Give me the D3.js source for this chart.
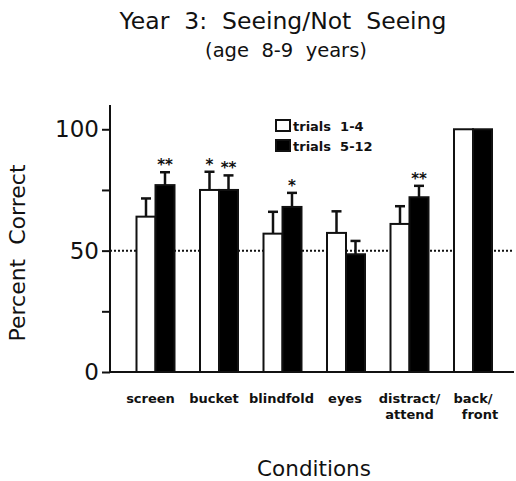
<!DOCTYPE html>
<html>
<head>
<meta charset="utf-8">
<script src="https://cdn.jsdelivr.net/npm/d3@7"></script>
<style>
  html, body { margin: 0; padding: 0; background: #fff; }
  svg { display: block; }
  text { font-family: "DejaVu Sans", sans-serif; fill: #111; white-space: pre; }
</style>
</head>
<body>
<svg id="chart" width="516" height="481"></svg>
<script>
// Conditions along the x axis (second line of a label follows "\n")
const categories = ["screen", "bucket", "blindfold", "eyes", "distract/\nattend", "back/\nfront"];
const seriesNames = ["trials  1-4", "trials  5-12"];

// Mean percent correct per condition
const early = [64, 75, 57, 57.3, 61, 100];   // trials 1-4
const late  = [77, 75, 68, 48.5, 72, 100];   // trials 5-12

// Upper error-bar ends (mean + SE); null where no bar is drawn
const earlyErr = [71.5, 82.5, 66, 66.2, 68.3, null];
const lateErr  = [82.3, 81, 73.8, 54, 76.7, null];

// Significance markers above each bar
const earlySig = ["", "*", "", "", "", ""];
const lateSig  = ["**", "**", "*", "", "**", ""];

const yTicks = [0, 25, 50, 75, 100];
const yLabels = [0, 50, 100];
const chance = 50;

const svg = d3.select("#chart");

const y = d3.scaleLinear().domain([0, 110]).range([372, 105]);
const x = d3.scaleBand().domain(categories).range([122.75, 503.75]).padding(0);
const sub = d3.scaleBand().domain(seriesNames).range([-18, 20]).padding(0);
const center = c => x(c) + x.bandwidth() / 2;

const rows = categories.map((c, i) => ([
  { c, s: seriesNames[0], v: early[i], e: earlyErr[i], sig: earlySig[i], fill: "#fff" },
  { c, s: seriesNames[1], v: late[i],  e: lateErr[i],  sig: lateSig[i],  fill: "#000" }
])).flat();

// chance-level dotted line
svg.append("line")
  .attr("x1", 110).attr("x2", 514)
  .attr("y1", y(chance)).attr("y2", y(chance))
  .attr("stroke", "#111").attr("stroke-width", 2)
  .attr("stroke-dasharray", "2,2");

// error bars (upward only, with cap)
const eb = svg.append("g").selectAll("g").data(rows.filter(d => d.e != null)).join("g");
eb.append("line")
  .attr("x1", d => center(d.c) + sub(d.s) + sub.bandwidth() / 2)
  .attr("x2", d => center(d.c) + sub(d.s) + sub.bandwidth() / 2)
  .attr("y1", d => y(d.v)).attr("y2", d => y(d.e))
  .attr("stroke", "#111").attr("stroke-width", 2.5);
eb.append("line")
  .attr("x1", d => center(d.c) + sub(d.s) + sub.bandwidth() / 2 - 5)
  .attr("x2", d => center(d.c) + sub(d.s) + sub.bandwidth() / 2 + 5)
  .attr("y1", d => y(d.e)).attr("y2", d => y(d.e))
  .attr("stroke", "#111").attr("stroke-width", 2.5);

// bars
svg.append("g").selectAll("rect").data(rows).join("rect")
  .attr("x", d => center(d.c) + sub(d.s))
  .attr("width", sub.bandwidth())
  .attr("y", d => y(d.v))
  .attr("height", d => y(0) - y(d.v))
  .attr("fill", d => d.fill)
  .attr("stroke", "#111").attr("stroke-width", 2);

// significance stars
svg.append("g").selectAll("text").data(rows.filter(d => d.sig)).join("text")
  .attr("x", d => center(d.c) + sub(d.s) + sub.bandwidth() / 2)
  .attr("y", d => y(d.e) - 2)
  .attr("text-anchor", "middle")
  .attr("font-size", 15).attr("font-weight", "bold")
  .text(d => d.sig);

// y axis
const yAxis = svg.append("g").attr("transform", "translate(110,0)")
  .call(d3.axisLeft(y).tickValues(yTicks).tickSize(8)
    .tickFormat(d => yLabels.includes(d) ? d : ""));
yAxis.select(".domain").attr("stroke", "#111").attr("stroke-width", 2)
  .attr("d", `M0,${y(110)}V${y(0)}`);
yAxis.selectAll(".tick line").attr("stroke", "#111").attr("stroke-width", 2);
yAxis.selectAll(".tick text").attr("font-size", 23).attr("font-family", "DejaVu Sans")
  .attr("fill", "#222").attr("x", -11);

// x axis baseline
svg.append("line")
  .attr("x1", 109).attr("x2", 514)
  .attr("y1", y(0)).attr("y2", y(0))
  .attr("stroke", "#111").attr("stroke-width", 2);

// category labels; two-line labels are nudged so the second line sits right
const cl = svg.append("g").selectAll("text").data(categories).join("text")
  .attr("y", 403)
  .attr("text-anchor", "middle")
  .attr("font-size", 13).attr("font-weight", "bold");
cl.each(function(d, ci) {
  const lines = d.split("\n");
  const last = ci === categories.length - 1;
  const shift = ci < 2 ? -4 : 0;   // first two labels sit a little left of their bars
  d3.select(this).selectAll("tspan").data(lines).join("tspan")
    .attr("x", (l, i) => center(d) + shift + (lines.length > 1 ? (last ? (i ? 8 : 1) : 1) : 0))
    .attr("dy", (l, i) => i ? 16 : 0)
    .text(l => l);
});

// legend
const lg = svg.append("g").selectAll("g").data(seriesNames).join("g")
  .attr("transform", (d, i) => `translate(276,${120 + i * 20})`);
lg.append("rect").attr("width", 14).attr("height", 11)
  .attr("fill", (d, i) => i ? "#000" : "#fff")
  .attr("stroke", "#111").attr("stroke-width", 2);
lg.append("text").attr("x", 17).attr("y", 10.5)
  .attr("font-size", 13).attr("font-weight", "bold")
  .text(d => d);

// titles
svg.append("text").attr("x", 283).attr("y", 29).attr("text-anchor", "middle")
  .attr("font-size", 23.5).text("Year  3:  Seeing/Not  Seeing");
svg.append("text").attr("x", 286).attr("y", 57).attr("text-anchor", "middle")
  .attr("font-size", 19.5).text("(age  8-9  years)");
svg.append("text").attr("x", 314).attr("y", 476).attr("text-anchor", "middle")
  .attr("font-size", 21.5).text("Conditions");
svg.append("text").attr("transform", "translate(25,253) rotate(-90)")
  .attr("text-anchor", "middle").attr("font-size", 22).text("Percent  Correct");
</script>
</body>
</html>
